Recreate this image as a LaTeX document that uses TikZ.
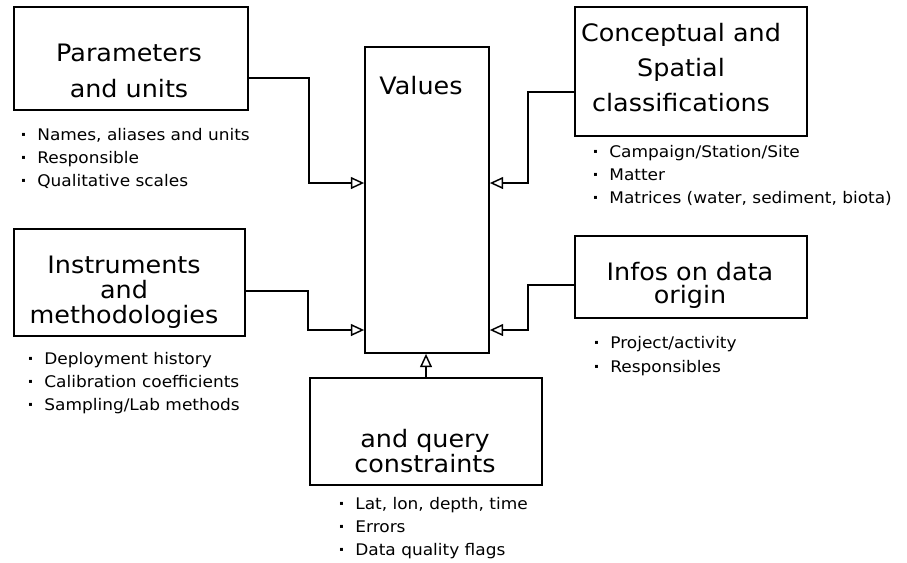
\documentclass[tikz,border=0pt]{standalone}
\usepackage{fontspec}
\setmainfont{DejaVu Sans}[FakeStretch=1.06]
\usetikzlibrary{arrows.meta,fit}
\newcommand\bul{{\bfseries ·}\hspace{8pt}}
\begin{document}
\begin{tikzpicture}[x=0.75pt,y=-0.75pt,
  box/.style={draw, line width=1.3pt, inner sep=0pt, fit={#1}},
  title/.style={align=center, inner sep=0pt, anchor=base},
  notes/.style={align=left, inner sep=0pt, anchor=base west,
    font=\fontsize{12}{17}\selectfont},
  conn/.style={line width=1.2pt, -{Triangle[open, length=10pt, width=9pt, line width=1.1pt]}}]
\useasboundingbox (0,0) rectangle (907,562);

% boxes
\node[box={(14,7) (248,110)}] (par) {};
\node[box={(365,47) (489,353)}] (val) {};
\node[box={(575,7) (807,136)}] (con) {};
\node[box={(14,229) (245,336)}] (ins) {};
\node[box={(575,236) (807,318)}] (inf) {};
\node[box={(310,378) (542,485)}] (bot) {};

% titles (anchored at the baseline of their last line)
\node[title, font=\fontsize{18}{27}\selectfont] (partxt) at (129,97) {Parameters\\and units};
\node[title, font=\fontsize{18}{27}\selectfont] (valtxt) at (421,94) {Values};
\node[title, font=\fontsize{18}{26}\selectfont] (contxt) at (681,111) {Conceptual and\\Spatial\\classifications};
\node[title, font=\fontsize{18}{18.75}\selectfont] (instxt) at (124,323) {Instruments\\and\\methodologies};
\node[title, font=\fontsize{18}{17.25}\selectfont] (inftxt) at (690,303) {Infos on data\\origin};
\node[title, font=\fontsize{18}{18.75}\selectfont] (bottxt) at (425,472) {and query\\constraints};

% bullet lists (anchored at the baseline of their last line)
\node[notes] (parb) at (20,186) {\bul Names, aliases and units\\\bul Responsible\\\bul Qualitative scales};
\node[notes] (conb) at (592,203) {\bul Campaign/Station/Site\\\bul Matter\\\bul Matrices (water, sediment, biota)};
\node[notes] (insb) at (27,410) {\bul Deployment history\\\bul Calibration coefficients\\\bul Sampling/Lab methods};
\node[notes, font=\fontsize{12}{18}\selectfont] (infb) at (593,372) {\bul Project/activity\\\bul Responsibles};
\node[notes] (botb) at (338,555) {\bul Lat, lon, depth, time\\\bul Errors\\\bul Data quality flags};

% connectors into the values box
\draw[conn] ([yshift=-14.6pt]par.east) -- ++(60,0) |- ([yshift=12.75pt]val.west);
\draw[conn] ([yshift=-6.4pt]ins.east) -- ++(62,0) |- ([yshift=-97.5pt]val.west);
\draw[conn] ([yshift=-15.4pt]con.west) -- ++(-46,0) |- ([yshift=12.75pt]val.east);
\draw[conn] ([yshift=-6pt]inf.west) -- ++(-46,0) |- ([yshift=-97.5pt]val.east);
\draw[conn] (bot.north) -- (bot.north |- val.south);
\end{tikzpicture}
\end{document}
